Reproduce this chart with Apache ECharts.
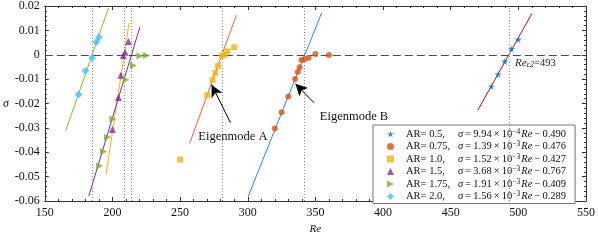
<!DOCTYPE html>
<html><head><meta charset="utf-8">
<script src="https://cdn.jsdelivr.net/npm/echarts@6/dist/echarts.min.js"></script>
<style>html,body{margin:0;padding:0;background:#fff}#c{width:598px;height:240px}</style>
</head><body><div id="c"></div>
<script>
// ---- data ----
const arNames = ['AR= 0.5,', 'AR= 0.75,', 'AR= 1.0,', 'AR= 1.5,', 'AR= 1.75,', 'AR= 2.0,'];
const slopeMant = ['9.94', '1.39', '1.52', '3.68', '1.91', '1.56'];
const slopeExp = ['\u22124', '\u22123', '\u22123', '\u22123', '\u22123', '\u22123'];
const intercepts = ['0.490', '0.476', '0.427', '0.767', '0.409', '0.289'];

const ar05 = [[480, -0.0130], [485, -0.0080], [490, -0.0027], [495, 0.0024], [500, 0.0063]];
const ar075 = [[320, -0.0303], [325, -0.0236], [330, -0.0171], [335, -0.0099], [337, -0.0071], [338.3, -0.0051], [339.7, -0.0022], [342, -0.0018], [345, -0.0012], [350, 0.0003], [360, -0.0001]];
const ar10 = [[250, -0.0430], [270, -0.0166], [274, -0.0103], [276, -0.0075], [278, -0.0046], [281, -0.0004], [283, 0.0001], [285, 0.0014], [290, 0.0031]];
const ar15 = [[200, -0.0307], [204.4, -0.0175], [206.2, -0.0084], [208, -0.0003], [209.3, 0.0010], [211.8, 0.0054]];
const ar175 = [[190.5, -0.0456], [193.4, -0.0397], [196.4, -0.0338], [200.3, -0.0264], [210, -0.0103], [215.4, -0.0044], [220.3, -0.0005], [225.2, -0.0003]];
const ar20 = [[175, -0.0163], [180, -0.0066], [185, -0.0013], [188, 0.0052], [190, 0.0072]];

// fitted lines (endpoints)
const fit05 = [[470, -0.0228], [510, 0.0169]];
const fit075 = [[300.4, -0.0580], [354.6, 0.0172]];
const fit10 = [[257, -0.0364], [291.6, 0.0163]];
const fit15 = [[195.3, -0.0490], [212.2, 0.0130]];
const fit175 = [[182.5, -0.0580], [220.3, 0.0114]];
const fit20 = [[165.4, -0.0312], [197.1, 0.0192]];

const criticalRe = [185, 208.6, 214, 281, 342, 493];
const xTicks = [150, 200, 250, 300, 350, 400, 450, 500, 550];
const yTicks = [-0.06, -0.05, -0.04, -0.03, -0.02, -0.01, 0, 0.01, 0.02];

const markerColors = ['#0072BD', '#D95319', '#EDB120', '#7E2F8E', '#77AC30', '#4DBEEE'];
const lineColors = ['#A2142F', '#2f86d6', '#E8643a', '#EDB120', '#7E2F8E', '#86b83c'];

const STAR = 'path://M50,0 L61,35 L98,35 L68,57 L79,91 L50,70 L21,91 L32,57 L2,35 L39,35 Z';
const RTRI = 'path://M0,0 L100,50 L0,100 Z';
const symbols = [STAR, 'circle', 'rect', 'triangle', RTRI, 'diamond'];
const symSizes = [7, 6, 6, 7, 7, 8];
const pts = [ar05, ar075, ar10, ar15, ar175, ar20];
const fits = [fit05, fit075, fit10, fit15, fit175, fit20];

const FONT = 'Liberation Serif';
const series = [];
fits.forEach((f, i) => {
  series.push({
    type: 'line', data: f, showSymbol: false, silent: true, z: 2,
    lineStyle: { color: lineColors[i], width: 1 }
  });
});
pts.forEach((p, i) => {
  series.push({
    name: arNames[i], type: 'scatter', data: p, symbol: symbols[i], symbolSize: symSizes[i], z: 5,
    itemStyle: { color: markerColors[i] }
  });
});
// reference lines & annotations
series.push({
  type: 'line', data: [], silent: true,
  markLine: {
    silent: true, symbol: 'none', animation: false, label: { show: false },
    data: criticalRe.map(v => ({ xAxis: v, lineStyle: { color: '#8a8a8a', type: [1, 2], width: 1 } }))
      .concat([{ yAxis: 0, lineStyle: { color: '#4a4a4a', type: [8, 4], width: 1 } }])
  }
});
series.push({
  type: 'line', data: [], silent: true,
  markLine: {
    silent: true, symbol: ['none', 'arrow'], symbolSize: [9, 12], animation: false, label: { show: false },
    lineStyle: { color: '#000', type: 'solid', width: 1 },
    data: [
      [{ coord: [287.2, -0.0279] }, { coord: [273.3, -0.0123] }],
      [{ coord: [349, -0.0197] }, { coord: [335.2, -0.0119] }]
    ]
  },
  markPoint: {
    silent: true, symbol: 'circle', symbolSize: 0, animation: false,
    label: { show: true, color: '#111', fontFamily: FONT, fontSize: 12.5, position: 'inside' },
    data: [
      { coord: [289, -0.0335], value: 'Eigenmode A', label: { formatter: 'Eigenmode A' } },
      { coord: [378.5, -0.0255], value: 'Eigenmode B', label: { formatter: 'Eigenmode B' } },
      { coord: [497.5, -0.0036], value: 'Rec2', label: { position: 'right', distance: 0, formatter: '{i|Re}{s|c2}{n|=493}',
          rich: { i: { fontStyle: 'italic', fontFamily: FONT, fontSize: 11, color: '#222' },
                  s: { fontStyle: 'italic', fontFamily: FONT, fontSize: 8, color: '#222', verticalAlign: 'bottom' },
                  n: { fontFamily: FONT, fontSize: 10.5, color: '#222' } } } }
    ]
  }
});

const axisCommon = {
  splitLine: { show: false },
  axisLine: { show: true, onZero: false, lineStyle: { color: '#333', width: 1 } },
  axisTick: { show: true, inside: true, length: 4, lineStyle: { color: '#333' } },
  minorTick: { show: true, splitNumber: 5, length: 2, lineStyle: { color: '#333' } }
};
function xAx(pos, showLabel) {
  return Object.assign({}, axisCommon, {
    type: 'value', position: pos, min: 150, max: 550, interval: 50,
    axisLabel: { show: showLabel, color: '#111', fontFamily: FONT, fontSize: 12, margin: 6 },
    name: showLabel ? 'Re' : '', nameLocation: 'middle', nameGap: 23,
    nameTextStyle: { fontFamily: FONT, fontStyle: 'italic', fontSize: 11, color: '#111' }
  });
}
function yAx(pos, showLabel) {
  return Object.assign({}, axisCommon, {
    type: 'value', position: pos, min: -0.06, max: 0.02, interval: 0.01,
    axisLabel: { show: showLabel, color: '#111', fontFamily: FONT, fontSize: 12, margin: 5,
      formatter: v => { const t = yTicks.find(k => Math.abs(k - v) < 1e-9); return t === 0 ? '0' : t.toFixed(2); } },
    name: showLabel ? '\u03c3' : '', nameLocation: 'middle', nameGap: 28, nameRotate: 0,
    nameTextStyle: { fontFamily: FONT, fontStyle: 'italic', fontSize: 12, color: '#111' }
  });
}

const TS = '\u2009';
const chart = echarts.init(document.getElementById('c'), null, { renderer: 'canvas' });
chart.setOption({
  animation: false,
  backgroundColor: '#fff',
  grid: { left: 44, right: 8, top: 6, bottom: 30 },
  xAxis: [xAx('bottom', true), xAx('top', false)],
  yAxis: [yAx('left', true), yAx('right', false)],
  legend: {
    orient: 'vertical', left: 373, top: 125,
    data: arNames,
    itemWidth: 7, itemHeight: 7, itemGap: 0.5,
    padding: [3, 9, 1, 14],
    borderColor: '#777', borderWidth: 1, backgroundColor: '#fff',
    selectedMode: false,
    formatter: name => {
      const i = arNames.indexOf(name);
      return '{a|' + name + '}{i|\u03c3}' + TS + '=' + TS + slopeMant[i] + TS + '\u00d7' + TS + '10{s|' + slopeExp[i] + '}{i|Re}' + TS + '\u2212' + TS + intercepts[i];
    },
    textStyle: {
      fontFamily: FONT, fontSize: 10.5, color: '#111', lineHeight: 12,
      rich: {
        a: { fontFamily: FONT, fontSize: 10.5, color: '#111', width: 52, padding: [0, 0, 0, 7], lineHeight: 12 },
        i: { fontFamily: FONT, fontSize: 10.5, fontStyle: 'italic', color: '#111', lineHeight: 12 },
        s: { fontFamily: FONT, fontSize: 7.5, color: '#111', verticalAlign: 'top', padding: [0, 1, 0, 0] }
      }
    }
  },
  series: series
});
</script></body></html>
